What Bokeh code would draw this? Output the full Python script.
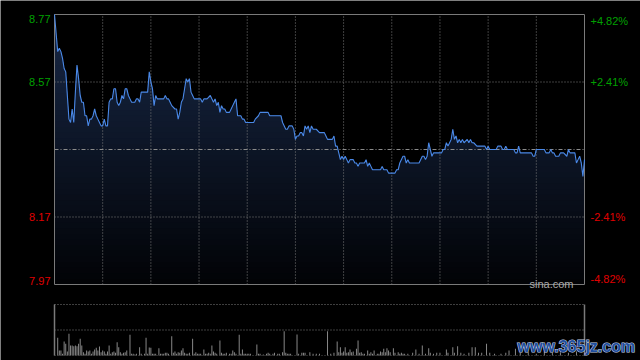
import numpy as np
from bokeh.plotting import figure
from bokeh.models import Range1d, Label
from bokeh.embed import file_html
from bokeh.resources import INLINE

# ---- data (HK session, minutes from 09:30, 330 = 16:00) ----
minutes = [0, 2, 3, 4, 5, 6, 7, 8, 9, 10, 11, 12, 13, 14, 15, 16, 17, 18, 19, 20,
           21, 22, 23, 24, 25, 26, 27, 28, 29, 30, 31, 32, 33, 34, 35, 36, 37, 38, 39, 40,
           41, 42, 43, 44, 45, 46, 47, 48, 49, 50, 51, 52, 53, 54, 58, 59, 60, 61, 62, 63,
           64, 65, 68, 69, 70, 71, 72, 73, 75, 76, 77, 78, 79, 80, 81, 82, 83, 84, 85, 86,
           87, 91, 92, 93, 95, 97, 98, 99, 100, 101, 102, 103, 104, 105, 106, 107, 109, 110, 111, 112,
           113, 114, 116, 117, 118, 119, 124, 125, 127, 128, 133, 134, 141, 142, 144, 145, 146, 148, 149, 150,
           151, 152, 153, 154, 155, 156, 157, 158, 159, 160, 161, 163, 165, 168, 169, 170, 173, 174, 175, 176,
           177, 178, 179, 180, 181, 182, 183, 184, 186, 187, 188, 189, 190, 193, 194, 195, 196, 197, 198, 203,
           204, 205, 207, 208, 212, 213, 214, 215, 217, 218, 219, 220, 221, 227, 229, 230, 231, 232, 233, 234,
           235, 236, 241, 242, 243, 244, 245, 246, 247, 248, 249, 250, 251, 252, 253, 254, 255, 257, 258, 259,
           260, 261, 263, 268, 269, 270, 271, 275, 276, 278, 279, 280, 281, 282, 286, 287, 288, 289, 290, 297,
           298, 299, 300, 305, 306, 308, 309, 310, 311, 312, 314, 315, 317, 319, 320, 321, 324, 325, 326, 327,
           328, 329, 330]
prices = [8.77, 8.66, 8.67, 8.66, 8.64, 8.61, 8.60, 8.53, 8.46, 8.45, 8.49, 8.45, 8.54, 8.62, 8.58, 8.53, 8.51, 8.51, 8.47, 8.47,
          8.44, 8.46, 8.46, 8.47, 8.49, 8.47, 8.46, 8.45, 8.44, 8.44, 8.46, 8.44, 8.44, 8.51, 8.52, 8.52, 8.55, 8.55, 8.51, 8.50,
          8.51, 8.53, 8.52, 8.55, 8.55, 8.53, 8.52, 8.51, 8.51, 8.51, 8.52, 8.52, 8.51, 8.54, 8.54, 8.60, 8.57, 8.55, 8.50, 8.53,
          8.52, 8.52, 8.52, 8.53, 8.52, 8.52, 8.51, 8.50, 8.49, 8.49, 8.46, 8.48, 8.51, 8.52, 8.55, 8.58, 8.57, 8.58, 8.54, 8.53,
          8.52, 8.52, 8.51, 8.52, 8.52, 8.53, 8.52, 8.51, 8.52, 8.50, 8.51, 8.48, 8.50, 8.49, 8.49, 8.48, 8.48, 8.49, 8.50, 8.51,
          8.52, 8.47, 8.47, 8.46, 8.46, 8.45, 8.45, 8.46, 8.47, 8.48, 8.48, 8.47, 8.47, 8.45, 8.43, 8.43, 8.44, 8.44, 8.43, 8.40,
          8.41, 8.41, 8.42, 8.42, 8.41, 8.44, 8.43, 8.44, 8.42, 8.44, 8.43, 8.43, 8.42, 8.42, 8.41, 8.40, 8.40, 8.41, 8.38, 8.38,
          8.36, 8.34, 8.35, 8.34, 8.35, 8.34, 8.33, 8.34, 8.34, 8.33, 8.33, 8.32, 8.33, 8.33, 8.34, 8.32, 8.33, 8.32, 8.31, 8.31,
          8.32, 8.31, 8.31, 8.30, 8.30, 8.31, 8.31, 8.33, 8.35, 8.35, 8.33, 8.34, 8.33, 8.33, 8.35, 8.35, 8.34, 8.35, 8.39, 8.37,
          8.35, 8.36, 8.36, 8.37, 8.37, 8.39, 8.38, 8.39, 8.40, 8.43, 8.40, 8.41, 8.39, 8.40, 8.39, 8.40, 8.39, 8.40, 8.39, 8.40,
          8.39, 8.39, 8.38, 8.38, 8.37, 8.38, 8.37, 8.37, 8.38, 8.38, 8.37, 8.37, 8.38, 8.37, 8.37, 8.36, 8.36, 8.38, 8.36, 8.36,
          8.35, 8.35, 8.37, 8.37, 8.36, 8.36, 8.37, 8.36, 8.36, 8.35, 8.35, 8.36, 8.36, 8.35, 8.37, 8.36, 8.36, 8.33, 8.34, 8.35,
          8.33, 8.29, 8.34]

vol_minutes = [2, 3, 4, 5, 6, 7, 8, 9, 10, 11, 12, 13, 14, 15, 16, 17, 18, 19, 20, 21,
               22, 23, 24, 25, 26, 27, 28, 29, 30, 31, 32, 33, 34, 35, 36, 37, 38, 39, 40, 41,
               42, 43, 44, 45, 47, 48, 49, 50, 51, 53, 54, 56, 57, 58, 59, 60, 61, 62, 63, 65,
               66, 67, 68, 69, 70, 71, 73, 74, 75, 76, 77, 78, 79, 80, 81, 82, 83, 84, 86, 87,
               88, 89, 90, 91, 93, 94, 95, 96, 97, 98, 99, 100, 101, 103, 104, 105, 106, 107, 109, 110,
               111, 112, 113, 115, 116, 117, 118, 119, 120, 121, 122, 126, 127, 128, 130, 132, 133, 134, 136, 137,
               139, 140, 142, 143, 144, 145, 146, 147, 151, 152, 154, 155, 156, 159, 161, 163, 165, 170, 172, 174,
               176, 177, 178, 179, 180, 181, 182, 183, 184, 185, 186, 188, 189, 190, 191, 192, 193, 195, 196, 197,
               198, 199, 201, 202, 203, 204, 205, 206, 207, 208, 209, 211, 212, 214, 215, 216, 217, 218, 220, 223,
               225, 227, 229, 231, 233, 234, 236, 238, 240, 244, 245, 248, 249, 251, 253, 255, 258, 260, 262, 264,
               266, 269, 271, 274, 278, 281, 283, 287, 290, 295, 300, 305, 310, 315, 320, 325, 330]
vol_values = [1060, 300, 300, 100, 840, 700, 240, 1300, 600, 600, 560, 600, 560, 700, 1000, 600, 200, 100, 300, 240,
              300, 100, 240, 360, 460, 300, 540, 200, 300, 240, 100, 240, 600, 100, 200, 240, 160, 800, 500, 200,
              100, 160, 200, 300, 1240, 100, 100, 60, 100, 500, 100, 100, 1060, 100, 480, 460, 100, 100, 100, 440,
              100, 100, 100, 160, 160, 100, 1160, 160, 240, 100, 200, 160, 300, 440, 160, 100, 100, 160, 1000, 100,
              200, 100, 100, 100, 360, 100, 100, 160, 100, 600, 240, 160, 100, 900, 160, 100, 100, 160, 100, 100,
              300, 200, 100, 1240, 100, 360, 100, 100, 100, 100, 100, 660, 100, 100, 60, 100, 160, 100, 100, 160,
              100, 100, 200, 1460, 160, 100, 100, 100, 1260, 100, 160, 160, 160, 200, 100, 100, 100, 1460, 100, 160,
              840, 200, 500, 160, 240, 500, 160, 200, 360, 200, 240, 400, 900, 160, 200, 100, 100, 300, 100, 200,
              100, 300, 100, 100, 240, 200, 400, 200, 440, 300, 200, 440, 160, 200, 100, 160, 100, 100, 100, 160,
              360, 100, 600, 100, 440, 160, 100, 160, 160, 360, 160, 500, 160, 560, 160, 100, 160, 500, 500, 160,
              160, 700, 160, 100, 100, 160, 300, 400, 160, 200, 100, 240, 160, 200, 160, 240, 2000]

prev_close = 8.37
level_values = [8.77, 8.57, 8.17, 7.97]
left_labels = ["8.77", "8.57", "8.17", "7.97"]
right_labels = ["+4.82%", "+2.41%", "-2.41%", "-4.82%"]
vgrid_minutes = [30, 60, 90, 120, 150, 180, 210, 240, 270, 300]
vol_scale_max = 3060

# ---- layout constants (pixels) ----
W, H = 640, 360
X0, X1 = 54, 584            # plot area left/right
PY0, PY1 = 14, 284          # price panel top/bottom
VY0, VY1 = 304, 355         # volume panel top/bottom
T0, T1 = 0, 330
P_LO, P_HI = 7.97, 8.77

sx = (X1 - X0) / (T1 - T0)
x_start = T0 - X0 / sx
x_end = T1 + (W - X1) / sx
sp = (PY1 - PY0) / (P_HI - P_LO)
y_end = P_HI + PY0 / sp
y_start = P_LO - (H - PY1) / sp
sv = (VY1 - VY0) / vol_scale_max
v_end = vol_scale_max + VY0 / sv
v_start = -(H - VY1) / sv

GREEN = "#00a000"
RED = "#e00000"
GRID = "#7c7c7c"
BORDER = "#7a7a7a"
FONT = "Liberation Sans"

p = figure(width=W, height=H, x_range=Range1d(x_start, x_end), y_range=Range1d(y_start, y_end),
           x_axis_type=None, y_axis_type=None, toolbar_location=None, output_backend="svg",
           min_border_left=0, min_border_right=0, min_border_top=0, min_border_bottom=0,
           background_fill_color="#000000", border_fill_color="#000000",
           outline_line_color=None, title=None)
p.grid.visible = False
p.extra_y_ranges = {"vol": Range1d(v_start, v_end)}

# gradient fill under the price line, built from stacked areas
pr = np.array(prices)
nb = 48
edges = np.linspace(P_LO, P_HI, nb + 1)
c_top = np.array([24, 40, 70])
c_bot = np.array([2, 3, 6])
for i in range(nb, 0, -1):
    f = (i - 0.5) / nb
    c = (c_bot + (c_top - c_bot) * f).astype(int)
    p.varea(x=minutes, y1=P_LO, y2=np.minimum(pr, edges[i]), fill_color="#%02x%02x%02x" % tuple(c))

# grid
p.segment(x0=vgrid_minutes, y0=P_LO, x1=vgrid_minutes, y1=P_HI, line_color=GRID, line_dash="1 2", line_width=1)
p.segment(x0=T0, y0=[8.57, 8.17], x1=T1, y1=[8.57, 8.17], line_color=GRID, line_dash="1 2", line_width=1)
p.segment(x0=[T0], y0=[prev_close], x1=[T1], y1=[prev_close], line_color="#8c8c8c", line_dash="4 2 1 2", line_width=1)
p.quad(left=[T0], right=[T1], bottom=[P_LO], top=[P_HI], fill_color=None, line_color=BORDER, line_width=1)

p.line(minutes, prices, line_color="#4a88e6", line_width=1.1)

baselines = ["top", "middle", "middle", "bottom"]
for lv, lt, rt, bl in zip(level_values, left_labels, right_labels, baselines):
    colr = GREEN if lv > prev_close else RED
    p.add_layout(Label(x=T0, y=lv, x_offset=-4, text=lt, text_align="right", text_baseline=bl,
                       text_color=colr, text_font_size="11px", text_font=FONT))
    p.add_layout(Label(x=T1, y=lv, x_offset=6, text=rt, text_align="left", text_baseline=bl,
                       text_color=colr, text_font_size="11px", text_font=FONT))

p.add_layout(Label(x=T1, y=P_LO, x_offset=-11, y_offset=1, text="sina.com", text_align="right",
                   text_baseline="alphabetic", text_color="#aaaaaa", text_font_size="11px", text_font=FONT))

# ---- volume panel ----
p.vbar(x=vol_minutes, top=vol_values, width=0.6, fill_color="#8c8c8c", line_color=None, y_range_name="vol")
p.segment(x0=T0, y0=[vol_scale_max, vol_scale_max / 2], x1=T1, y1=[vol_scale_max, vol_scale_max / 2],
          line_color=GRID, line_dash="1 2", line_width=1, y_range_name="vol")
p.segment(x0=[T0], y0=[0], x1=[T1], y1=[0], line_color="#505050", line_dash="1 2", line_width=1, y_range_name="vol")
p.segment(x0=[T0, T1], y0=0, x1=[T0, T1], y1=vol_scale_max, line_color=BORDER, line_width=1.5, y_range_name="vol")

# watermark
for tc, oc in [("#c4cfe2", "#c4cfe2"), ("#1f4f9e", None)]:
    p.add_layout(Label(x=288.3, y=40, text="www.365jz.com", text_align="left", text_baseline="bottom",
                       text_color=tc, text_outline_color=oc, text_font_size="16px", text_font_style="bold",
                       text_font=FONT, y_range_name="vol"))

html = file_html(p, INLINE)
html = html.replace("<body>", '<body style="background-color:#000000;">', 1)
open("out.html", "w").write(html)
